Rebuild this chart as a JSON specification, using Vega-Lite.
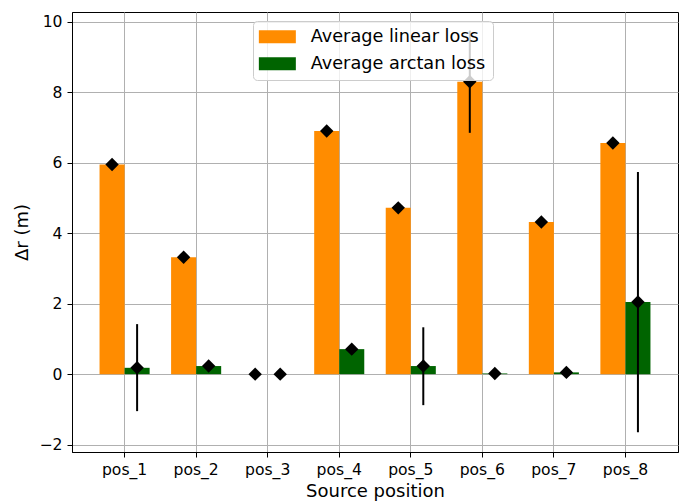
{
  "$schema": "https://vega.github.io/schema/vega-lite/v6.json",
  "width": 606,
  "height": 440,
  "autosize": {"type": "none"},
  "padding": {"left": 72, "top": 12, "right": 1, "bottom": 49},
  "config": {
    "font": "DejaVu Sans",
    "view": {"stroke": "black", "strokeWidth": 1},
    "axis": {
      "domainColor": "black",
      "tickColor": "black",
      "labelColor": "black",
      "titleColor": "black",
      "gridColor": "#b0b0b0",
      "gridWidth": 1,
      "tickSize": 5,
      "labelFontSize": 15.6,
      "titleFontSize": 18,
      "titleFontWeight": "normal",
      "labelPadding": 5
    }
  },
  "data": {
    "values": [
      {"pos": "pos_1", "series": "Average linear loss", "mean": 5.95},
      {"pos": "pos_2", "series": "Average linear loss", "mean": 3.32},
      {"pos": "pos_3", "series": "Average linear loss", "mean": 0.0},
      {"pos": "pos_4", "series": "Average linear loss", "mean": 6.9},
      {"pos": "pos_5", "series": "Average linear loss", "mean": 4.72},
      {"pos": "pos_6", "series": "Average linear loss", "mean": 8.3, "lo": 6.85, "hi": 9.75},
      {"pos": "pos_7", "series": "Average linear loss", "mean": 4.32},
      {"pos": "pos_8", "series": "Average linear loss", "mean": 6.56},
      {"pos": "pos_1", "series": "Average arctan loss", "mean": 0.18, "lo": -1.05, "hi": 1.42},
      {"pos": "pos_2", "series": "Average arctan loss", "mean": 0.23},
      {"pos": "pos_3", "series": "Average arctan loss", "mean": 0.0},
      {"pos": "pos_4", "series": "Average arctan loss", "mean": 0.71},
      {"pos": "pos_5", "series": "Average arctan loss", "mean": 0.23, "lo": -0.88, "hi": 1.33},
      {"pos": "pos_6", "series": "Average arctan loss", "mean": 0.02},
      {"pos": "pos_7", "series": "Average arctan loss", "mean": 0.05},
      {"pos": "pos_8", "series": "Average arctan loss", "mean": 2.05, "lo": -1.65, "hi": 5.74}
    ]
  },
  "encoding": {
    "x": {
      "field": "pos",
      "type": "nominal",
      "scale": {"paddingInner": 0.3, "paddingOuter": 0.385},
      "axis": {
        "labelAngle": 0,
        "bandPosition": 0.5,
        "grid": true,
        "title": "Source position",
        "titlePadding": 5
      }
    },
    "xOffset": {
      "field": "series",
      "type": "nominal",
      "scale": {"domain": ["Average linear loss", "Average arctan loss"]}
    }
  },
  "layer": [
    {
      "mark": {"type": "bar"},
      "encoding": {
        "y": {
          "field": "mean",
          "type": "quantitative",
          "scale": {"domain": [-2.21, 10.28], "nice": false, "zero": false},
          "axis": {
            "values": [-2, 0, 2, 4, 6, 8, 10],
            "grid": true,
            "title": "Δr (m)",
            "titlePadding": 8
          }
        },
        "color": {
          "field": "series",
          "type": "nominal",
          "scale": {
            "domain": ["Average linear loss", "Average arctan loss"],
            "range": ["#ff8c00", "#006400"]
          },
          "legend": {
            "title": null,
            "orient": "none",
            "legendX": 181,
            "legendY": 9,
            "zindex": 1,
            "padding": 7,
            "fillColor": "rgba(255,255,255,0.8)",
            "strokeColor": "#cccccc",
            "cornerRadius": 4,
            "labelFontSize": 17.7,
            "labelLimit": 400,
            "labelColor": "black",
            "labelOffset": 33,
            "rowPadding": 8,
            "symbolType": "M-1.25,-0.8125H3.375V0.8125H-1.25Z",
            "symbolSize": 256,
            "symbolStrokeWidth": 0,
            "symbolOpacity": 1
          }
        }
      }
    },
    {
      "transform": [{"filter": "datum.lo != null"}],
      "mark": {"type": "rule", "color": "black", "strokeWidth": 2},
      "encoding": {
        "y": {"field": "lo", "type": "quantitative"},
        "y2": {"field": "hi"}
      }
    },
    {
      "mark": {"type": "point", "shape": "diamond", "filled": true, "color": "black", "size": 180, "opacity": 1},
      "encoding": {
        "y": {"field": "mean", "type": "quantitative"}
      }
    }
  ]
}
